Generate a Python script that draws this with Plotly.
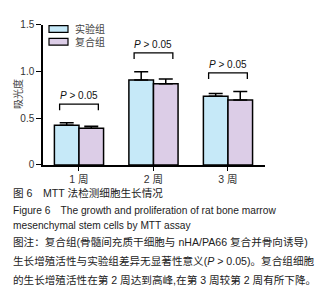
import plotly.graph_objects as go

categories = ["1 周", "2 周", "3 周"]
series_names = ["实验组", "复合组"]
exp_values = [0.423, 0.908, 0.733]
exp_errors = [0.027, 0.089, 0.031]
comp_values = [0.392, 0.867, 0.695]
comp_errors = [0.021, 0.051, 0.089]
p_labels = ["<i>P</i> > 0.05", "<i>P</i> > 0.05", "<i>P</i> > 0.05"]
y_ticks = [0, 0.5, 1.0, 1.5]
y_ticktext = ["0", "0.5", "1.0", "1.5"]
y_title = "吸光度"
caption_lines = [
    "图 6　MTT 法检测细胞生长情况",
    "Figure 6　The growth and proliferation of rat bone marrow",
    "mesenchymal stem cells by MTT assay",
    "图注：复合组(骨髓间充质干细胞与 nHA/PA66 复合并骨向诱导)",
    "生长增殖活性与实验组差异无显著性意义(<i>P</i> > 0.05)。复合组细胞",
    "的生长增殖活性在第 2 周达到高峰,在第 3 周较第 2 周有所下降。",
]

W, H = 331, 292
FONT = "Liberation Sans, Arial, Noto Sans CJK SC, sans-serif"
colors = ["#c6e9f8", "#dccde7"]

fig = go.Figure()
for name, vals, errs, col in [
    (series_names[0], exp_values, exp_errors, colors[0]),
    (series_names[1], comp_values, comp_errors, colors[1]),
]:
    fig.add_trace(go.Bar(
        x=categories, y=vals, name=name,
        marker=dict(color=col, line=dict(color="black", width=1.5)),
        error_y=dict(type="data", array=errs, arrayminus=[0] * len(errs),
                     symmetric=False, color="black", thickness=1.5, width=7),
        showlegend=False,
    ))

# significance brackets
shapes = []
annotations = []
for i, (cat, a, ea, b, eb, lab) in enumerate(zip(categories, exp_values, exp_errors,
                                                 comp_values, comp_errors, p_labels)):
    top = max(a + ea, b + eb) + 0.2
    x0, x1 = i - 0.26, i + 0.26
    shapes.append(dict(type="path", xref="x", yref="y",
                       path=f"M {x0},{top-0.065} L {x0},{top} L {x1},{top} L {x1},{top-0.065}",
                       line=dict(color="black", width=1.3)))
    annotations.append(dict(x=i, y=top, xref="x", yref="y", text=lab, showarrow=False,
                            yanchor="bottom", yshift=1,
                            font=dict(family=FONT, size=10, color="#111")))

# legend (manual)
def px_x(x):
    return x / W

def px_y(y):
    return 1 - y / H

for k, (name, col) in enumerate(zip(series_names, colors)):
    y0 = 13 + k * 13.3
    shapes.append(dict(type="rect", xref="paper", yref="paper",
                       x0=px_x(41), x1=px_x(60), y0=px_y(y0), y1=px_y(y0 + 7),
                       fillcolor=col, line=dict(color="black", width=1.2)))
    annotations.append(dict(x=px_x(65), y=px_y(y0 + 3.5), xref="paper", yref="paper",
                            text=name, showarrow=False, xanchor="left", yanchor="middle",
                            font=dict(family=FONT, size=10, color="#444")))

# y title
annotations.append(dict(x=px_x(10), y=px_y(84), xref="paper", yref="paper", text=y_title,
                        textangle=-90, showarrow=False, xanchor="center", yanchor="middle",
                        font=dict(family=FONT, size=10, color="#444")))

# caption
cap_y = [186, 204, 220.5, 237, 257, 276]
cap_size = [10.6, 10.2, 10.2, 10.6, 10.6, 10.6]
for line, yy, sz in zip(caption_lines, cap_y, cap_size):
    annotations.append(dict(x=px_x(3), y=px_y(yy), xref="paper", yref="paper", text=line,
                            showarrow=False, xanchor="left", yanchor="middle",
                            font=dict(family=FONT, size=sz, color="#222")))

fig.update_layout(
    width=W, height=H, margin=dict(l=0, r=0, t=0, b=0),
    paper_bgcolor="white", plot_bgcolor="white",
    barmode="group", bargap=0.34, bargroupgap=0,
    shapes=shapes, annotations=annotations,
    font=dict(family=FONT),
    xaxis=dict(domain=[35 / W, 257 / W], range=[-0.483, 2.497], type="category",
               showline=True, linecolor="black", linewidth=1.5,
               ticks="outside", ticklen=4, tickcolor="black", tickwidth=1.2,
               tickfont=dict(family=FONT, size=10.5, color="#333"),
               showgrid=False, zeroline=False, fixedrange=True),
    yaxis=dict(domain=[1 - 157.3 / H, 1 - 12 / H], range=[0, 1.5],
               tickvals=y_ticks, ticktext=y_ticktext,
               showline=True, linecolor="black", linewidth=1.5,
               ticks="outside", ticklen=5, tickcolor="black", tickwidth=1.2,
               tickfont=dict(family=FONT, size=10, color="#333"),
               showgrid=False, zeroline=False, fixedrange=True),
)

fig.write_html("out.html")
